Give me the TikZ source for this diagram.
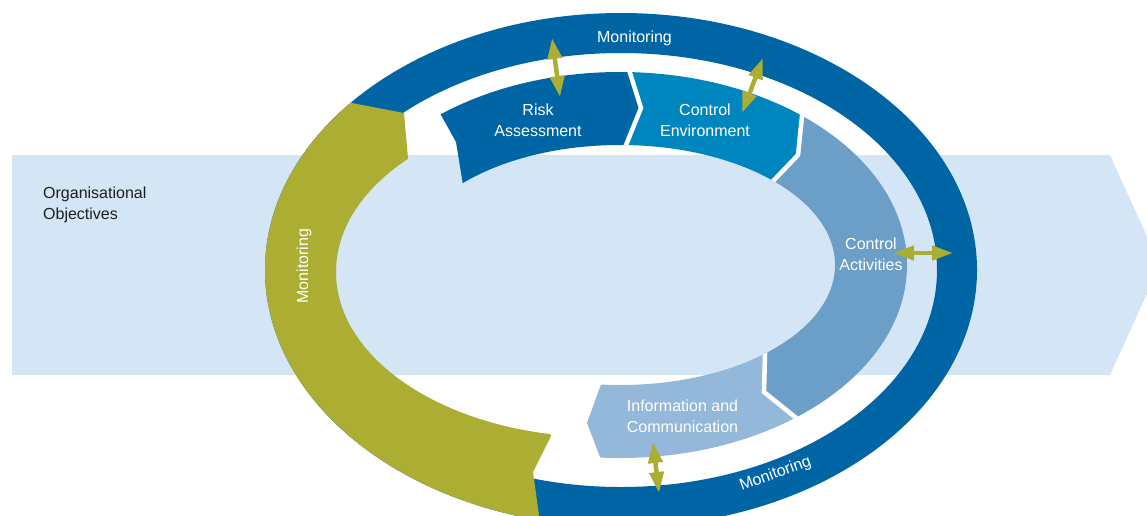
\documentclass[tikz,border=0pt]{standalone}
\usepackage{fontspec}
\setmainfont{Liberation Sans}
\usetikzlibrary{arrows.meta}
\definecolor{RingBlue}{HTML}{0065A5}
\definecolor{EnvBlue}{HTML}{0086BF}
\definecolor{ActBlue}{HTML}{6B9FC8}
\definecolor{InfoBlue}{HTML}{93B8D9}
\definecolor{BandBlue}{HTML}{D4E6F5}
\definecolor{MoniGreen}{HTML}{ABAE33}
\definecolor{TextDark}{HTML}{1E1E1E}

\begin{document}
\begin{tikzpicture}[
    x=1pt, y=-1pt,
    font=\fontsize{16}{20.5}\selectfont,
    lbl/.style={text=white, inner sep=0pt, align=center},
    link/.style={{Triangle[length=21pt,width=14pt]}-{Triangle[length=21pt,width=14pt]},
                 line width=4.5pt, MoniGreen},
    gap/.style={draw=white, line width=4.5pt},
  ]
  \useasboundingbox (0,0) rectangle (1147,515);
  \clip (0,0) rectangle (1147,515);

  % objectives band
  \fill[BandBlue] (12,155) -- (1110,155) -- (1160,265) -- (1110,375) -- (12,375) -- cycle;
  \node[inner sep=0pt, align=left, anchor=base west, text=TextDark] (obj) at (43,219)
    {Organisational\\Objectives};

  % outer monitoring ring
  \fill[RingBlue, even odd rule]
    (621,270) ellipse [x radius=356, y radius=257]
    (621,270) ellipse [x radius=316, y radius=217];
  \begin{scope}
    \clip (300,93) -- (404,113) -- (408,158) -- (500,300) -- (551,436) -- (533,472)
      -- (539,515) -- (545,560) -- (200,560) -- (200,93) -- cycle;
    \fill[MoniGreen, even odd rule]
      (621,270) ellipse [x radius=356, y radius=257]
      (600,272) ellipse [x radius=264, y radius=165];
  \end{scope}

  % inner components
  \begin{scope}[even odd rule]
    \clip
      (620,265) ellipse [x radius=287, y radius=193]
      (620,265) ellipse [x radius=215, y radius=120];
    \fill[RingBlue] (416,70) -- (456,142) -- (468,216) -- (611,182) -- (641,108) -- (619,38) -- cycle;
    \fill[EnvBlue] (619,38) -- (641,108) -- (611,182) -- (752,203) -- (798,155) -- (806,77) -- cycle;
    \fill[ActBlue] (806,77) -- (798,155) -- (752,203) -- (766,316) -- (764,392) -- (826,442)
      -- (1000,442) -- (1000,77) -- cycle;
    \fill[InfoBlue] (766,316) -- (764,392) -- (826,442) -- (613,491) -- (587,423) -- (613,351) -- cycle;
    \draw[gap] (619,38) -- (641,108) -- (611,182);
    \draw[gap] (806,77) -- (798,155) -- (752,203);
    \draw[gap] (766,316) -- (764,392) -- (826,442);
  \end{scope}

  % labels
  \node[lbl, anchor=base] (risk) at (538,136) {Risk\\Assessment};
  \node[lbl, anchor=base] (env) at (705,136) {Control\\Environment};
  \node[lbl, anchor=base] (act) at (871,270) {Control\\Activities};
  \node[lbl, anchor=base] (info) at (682.5,432) {Information and\\Communication};
  \node[lbl, anchor=base] (moniTop) at (634.5,42) {Monitoring};
  \node[lbl, rotate=90] (moniLeft) at (304,266) {Monitoring};
  \node[lbl, rotate=20] (moniBot) at (775.5,474) {Monitoring};

  % two-way links
  \coordinate (riskA) at (552,38);  \coordinate (riskB) at (560,97);
  \coordinate (envA) at (763,58);   \coordinate (envB) at (742,113);
  \coordinate (actA) at (893,253);  \coordinate (actB) at (953,253);
  \coordinate (infoA) at (653,442); \coordinate (infoB) at (659,493);
  \draw[link] (riskA) -- (riskB);
  \draw[link] (envA) -- (envB);
  \draw[link] (actA) -- (actB);
  \draw[link] (infoA) -- (infoB);
\end{tikzpicture}
\end{document}
